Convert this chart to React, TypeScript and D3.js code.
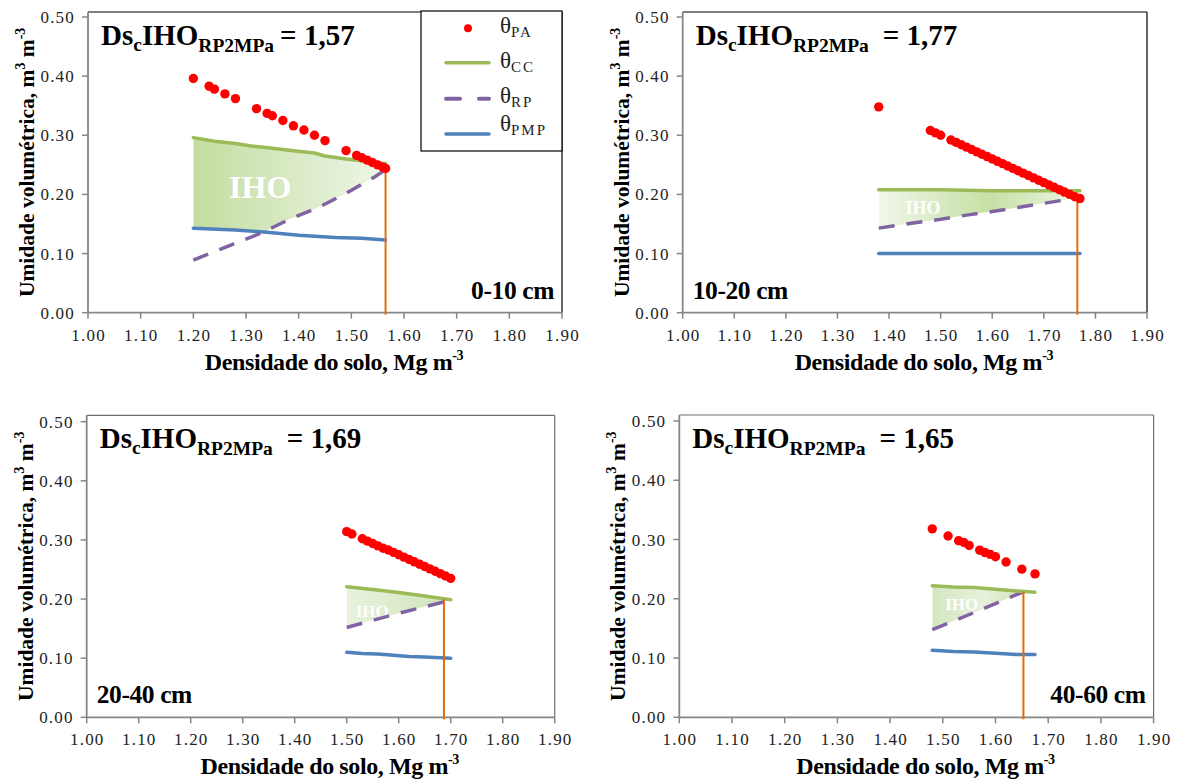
import React from "react";
import * as d3 from "d3";

type Pt = [number, number];

const densityTicks = [1.0, 1.1, 1.2, 1.3, 1.4, 1.5, 1.6, 1.7, 1.8, 1.9];
const moistureTicks = [0, 0.1, 0.2, 0.3, 0.4, 0.5];

const depthLabels = ["0-10 cm", "10-20 cm", "20-40 cm", "40-60 cm"];
const dscLabels = ["1,57", "1,77", "1,69", "1,65"];
const dscValues = [1.565, 1.765, 1.687, 1.653];
const dscTops = [0.245, 0.193, 0.1995, 0.212];

// 0-10 cm
const pa0010: Pt[] = [
  [1.2, 0.396], [1.23, 0.383], [1.24, 0.378], [1.26, 0.37], [1.28, 0.362],
  [1.32, 0.345], [1.34, 0.337], [1.35, 0.333], [1.37, 0.325], [1.39, 0.316],
  [1.41, 0.309], [1.43, 0.3], [1.45, 0.291], [1.49, 0.274], [1.51, 0.266],
  [1.52, 0.262], [1.53, 0.258], [1.54, 0.254], [1.55, 0.25], [1.56, 0.246], [1.565, 0.244],
];
const cc0010: Pt[] = [
  [1.2, 0.296], [1.24, 0.29], [1.28, 0.286], [1.31, 0.282], [1.35, 0.278], [1.39, 0.274],
  [1.43, 0.27], [1.45, 0.265], [1.49, 0.26], [1.53, 0.256], [1.565, 0.252],
];
const rp0010: Pt[] = [
  [1.2, 0.089], [1.27, 0.114], [1.33, 0.135], [1.38, 0.157], [1.44, 0.179],
  [1.49, 0.202], [1.545, 0.23], [1.565, 0.242],
];
const pmp0010: Pt[] = [
  [1.2, 0.143], [1.28, 0.14], [1.34, 0.136], [1.4, 0.131], [1.47, 0.127], [1.52, 0.126], [1.565, 0.123],
];

// 10-20 cm
const pa1020: Pt[] = [
  [1.38, 0.348], [1.48, 0.308], [1.49, 0.304], [1.5, 0.3],
  [1.52, 0.292], [1.53, 0.288], [1.54, 0.284], [1.55, 0.28], [1.56, 0.276], [1.57, 0.272],
  [1.58, 0.268], [1.59, 0.264], [1.6, 0.26], [1.61, 0.256], [1.62, 0.252], [1.63, 0.248],
  [1.64, 0.244], [1.65, 0.24], [1.66, 0.236], [1.67, 0.232], [1.68, 0.228], [1.69, 0.224],
  [1.7, 0.22], [1.71, 0.216], [1.72, 0.212], [1.73, 0.208], [1.74, 0.204], [1.75, 0.2],
  [1.76, 0.196], [1.77, 0.193],
];
const cc1020: Pt[] = [
  [1.38, 0.208], [1.45, 0.208], [1.5, 0.208], [1.55, 0.207], [1.6, 0.206], [1.65, 0.206], [1.7, 0.206], [1.77, 0.206],
];
const rp1020: Pt[] = [
  [1.38, 0.143], [1.45, 0.152], [1.5, 0.158], [1.55, 0.165], [1.6, 0.171], [1.65, 0.178], [1.7, 0.185], [1.765, 0.194],
];
const pmp1020: Pt[] = [[1.38, 0.1], [1.5, 0.1], [1.6, 0.1], [1.7, 0.1], [1.77, 0.1]];

// 20-40 cm
const pa2040: Pt[] = [
  [1.5, 0.314], [1.51, 0.31], [1.53, 0.302], [1.54, 0.298], [1.55, 0.294], [1.56, 0.29],
  [1.57, 0.286], [1.58, 0.283], [1.59, 0.279], [1.6, 0.275], [1.61, 0.271], [1.62, 0.267],
  [1.63, 0.263], [1.64, 0.259], [1.65, 0.255], [1.66, 0.251], [1.67, 0.247], [1.68, 0.243],
  [1.69, 0.239], [1.7, 0.235],
];
const cc2040: Pt[] = [[1.5, 0.221], [1.55, 0.216], [1.6, 0.211], [1.65, 0.205], [1.7, 0.199]];
const rp2040: Pt[] = [[1.5, 0.152], [1.55, 0.164], [1.6, 0.176], [1.65, 0.187], [1.7, 0.198]];
const pmp2040: Pt[] = [
  [1.5, 0.11], [1.53, 0.108], [1.56, 0.107], [1.59, 0.105], [1.62, 0.103], [1.65, 0.102], [1.7, 0.1],
];

// 40-60 cm
const pa4060: Pt[] = [
  [1.48, 0.318], [1.51, 0.306], [1.53, 0.298], [1.54, 0.295], [1.55, 0.29], [1.57, 0.282],
  [1.58, 0.278], [1.59, 0.275], [1.6, 0.271], [1.62, 0.262], [1.65, 0.25], [1.675, 0.242],
];
const cc4060: Pt[] = [[1.48, 0.222], [1.52, 0.22], [1.56, 0.219], [1.6, 0.216], [1.64, 0.213], [1.675, 0.211]];
const rp4060: Pt[] = [[1.48, 0.148], [1.52, 0.162], [1.56, 0.177], [1.6, 0.192], [1.64, 0.207], [1.675, 0.22]];
const pmp4060: Pt[] = [[1.48, 0.113], [1.52, 0.111], [1.56, 0.11], [1.6, 0.108], [1.64, 0.106], [1.675, 0.106]];

const series = [
  { pa: pa0010, cc: cc0010, rp: rp0010, pmp: pmp0010 },
  { pa: pa1020, cc: cc1020, rp: rp1020, pmp: pmp1020 },
  { pa: pa2040, cc: cc2040, rp: rp2040, pmp: pmp2040 },
  { pa: pa4060, cc: cc4060, rp: rp4060, pmp: pmp4060 },
];

// where IHO text sits, in data units
const ihoLabelPos: Pt[] = [[1.327, 0.212], [1.466, 0.177], [1.549, 0.179], [1.536, 0.19]];

// pixel layout of each panel
const boxes = [
  { left: 88, right: 562, top: 12, y0: 312.7, y50: 17, frame: "#000", ihoSize: 32, depthRight: true,
    eqGap: 6, grad: [["0", "#c3dd9f"], ["1", "#eef6e8"]] },
  { left: 682.7, right: 1147, top: 12, y0: 312.7, y50: 17, frame: "#000", ihoSize: 18, depthRight: false,
    eqGap: 14, grad: [["0", "#f0f7ea"], ["0.55", "#c6e0a4"], ["1", "#eef6e6"]] },
  { left: 86.7, right: 554.7, top: 415.3, y0: 717.3, y50: 421.7, frame: "#6f6f6f", ihoSize: 17, depthRight: false,
    eqGap: 14, grad: [["0", "#e8f2de"], ["1", "#cfe4b7"]] },
  { left: 679.3, right: 1153.6, top: 415, y0: 717.3, y50: 421, frame: "#6f6f6f", ihoSize: 17, depthRight: true,
    eqGap: 14, grad: [["0", "#d4e7c0"], ["0.5", "#e6f1dc"], ["1", "#c8e0aa"]] },
];

const FONT = "'Liberation Serif', 'Times New Roman', serif";
const RED = "#ff0000";
const GREEN = "#9bbb59";
const PURPLE = "#8064a2";
const BLUE = "#4f81bd";
const ORANGE = "#e36c09";
const AXIS = "#868686";

function Panel({ i }: { i: number }) {
  const b = boxes[i];
  const s = series[i];
  const x = d3.scaleLinear().domain([1, 1.9]).range([b.left, b.right]);
  const y = d3.scaleLinear().domain([0, 0.5]).range([b.y0, b.y50]);
  const line = d3.line<Pt>().x(d => x(d[0])).y(d => y(d[1]));
  const above = d3.area<Pt>().x(d => x(d[0])).y0(d => y(d[1])).y1(b.top);
  const band = [...s.cc, ...s.rp.slice().reverse()];
  const dsc = dscValues[i];
  const cx = (b.left + b.right) / 2;
  const cy = (b.top + b.y0) / 2;
  const lab = ihoLabelPos[i];

  return (
    <g>
      <defs>
        <linearGradient id={"ihoGrad" + i} x1="0" x2="1" y1="0" y2="0">
          {b.grad.map(([o, c]) => <stop key={o} offset={o} stopColor={c} />)}
        </linearGradient>
        <clipPath id={"dscClip" + i}>
          <rect x={b.left} y={b.top} width={x(dsc) - b.left} height={b.y0 - b.top} />
        </clipPath>
        <clipPath id={"pmpClip" + i}>
          <path d={above(s.pmp) || ""} />
        </clipPath>
      </defs>

      {/* IHO band */}
      <g clipPath={`url(#dscClip${i})`}>
        <path d={line(band) + "Z"} fill={`url(#ihoGrad${i})`} clipPath={`url(#pmpClip${i})`} />
      </g>
      <text x={x(lab[0])} y={y(lab[1]) + b.ihoSize * 0.34} textAnchor="middle" fill="#fff"
        fontWeight="bold" fontSize={b.ihoSize}>IHO</text>

      {/* frame and axes */}
      <line x1={b.left} x2={b.right} y1={b.top} y2={b.top} stroke={b.frame} strokeWidth={1.2} />
      <line x1={b.right} x2={b.right} y1={b.top} y2={b.y0} stroke={b.frame} strokeWidth={1.2} />
      <line x1={b.left} x2={b.left} y1={b.top} y2={b.y0} stroke={AXIS} strokeWidth={1.8} />
      <line x1={b.left} x2={b.right} y1={b.y0} y2={b.y0} stroke={AXIS} strokeWidth={1.8} />
      {moistureTicks.map(t => (
        <g key={"y" + t}>
          <line x1={b.left - 6} x2={b.left} y1={y(t)} y2={y(t)} stroke={AXIS} strokeWidth={1.5} />
          <text x={b.left - 13} y={y(t) + 6} textAnchor="end" fontSize={17} letterSpacing={1.2} fill="#222">
            {t.toFixed(2)}
          </text>
        </g>
      ))}
      {densityTicks.map(t => (
        <g key={"x" + t}>
          <line x1={x(t)} x2={x(t)} y1={b.y0} y2={b.y0 + 6} stroke={AXIS} strokeWidth={1.5} />
          <text x={x(t) + 0.6} y={b.y0 + 28} textAnchor="middle" fontSize={17} letterSpacing={1.2} fill="#222">
            {t.toFixed(2)}
          </text>
        </g>
      ))}

      {/* axis titles */}
      <text x={cx + 9} y={b.y0 + 57} textAnchor="middle" fontWeight="bold" fontSize={24} letterSpacing={-0.4}>
        Densidade do solo, Mg m<tspan fontSize={14} dy={-10}>-3</tspan>
      </text>
      <text transform={`translate(${b.left - 54},${cy}) rotate(-90)`} textAnchor="middle" fontWeight="bold" fontSize={21.5}>
        Umidade volumétrica, m<tspan fontSize={14} dy={-9}>3</tspan>
        <tspan dy={9}> m</tspan><tspan fontSize={14} dy={-9}>-3</tspan>
      </text>

      {/* series */}
      <path d={line(s.pmp) || ""} fill="none" stroke={BLUE} strokeWidth={3.5} strokeLinecap="round" />
      <path d={line(s.rp) || ""} fill="none" stroke={PURPLE} strokeWidth={3.5} strokeDasharray="16,12" />
      <path d={line(s.cc) || ""} fill="none" stroke={GREEN} strokeWidth={3.5} strokeLinecap="round" />
      <line x1={x(dsc)} x2={x(dsc)} y1={y(0) + 2} y2={y(dscTops[i])} stroke={ORANGE} strokeWidth={2} />
      {s.pa.map((d, k) => (
        <circle key={k} cx={x(d[0])} cy={y(d[1])} r={4.7} fill={RED} />
      ))}

      {/* annotations */}
      <text x={b.left + 13} y={b.top + 33} fontWeight="bold" fontSize={29}>
        Ds<tspan fontSize={19.5} dy={6}>c</tspan><tspan dy={-6}>IHO</tspan>
        <tspan fontSize={19.5} dy={7}>RP2MPa</tspan>
        <tspan dy={-7} dx={b.eqGap}>= {dscLabels[i]}</tspan>
      </text>
      <text x={b.depthRight ? b.right - 8 : b.left + 10} y={b.y0 - 14}
        textAnchor={b.depthRight ? "end" : "start"} fontWeight="bold" fontSize={25.5} letterSpacing={-0.4}>
        {depthLabels[i]}
      </text>
    </g>
  );
}

const legendItems = [
  { sub: "PA", kind: "dot", color: RED },
  { sub: "CC", kind: "line", color: GREEN },
  { sub: "RP", kind: "dash", color: PURPLE },
  { sub: "PMP", kind: "line", color: BLUE },
];

function Legend() {
  const left = 421;
  const top = 11;
  const rowY = [28.3, 62.7, 98.7, 134];
  const textY = [33, 68, 103, 131];
  return (
    <g>
      <rect x={left} y={top} width={141} height={140} fill="#fff" stroke="#000" strokeWidth={1.2} />
      {legendItems.map((it, k) => (
        <g key={it.sub}>
          {it.kind === "dot" ? (
            <circle cx={left + 47} cy={rowY[k]} r={4} fill={it.color} />
          ) : (
            <line x1={left + 25} x2={left + 68} y1={rowY[k]} y2={rowY[k]} stroke={it.color}
              strokeWidth={it.kind === "dash" ? 4 : 3.5} strokeLinecap="round"
              strokeDasharray={it.kind === "dash" ? "14,19" : undefined} />
          )}
          <text x={left + 79} y={textY[k]} fontSize={23} fill="#222">
            θ<tspan fontSize={15} dy={4} letterSpacing={2}>{it.sub}</tspan>
          </text>
        </g>
      ))}
    </g>
  );
}

export default function App() {
  return (
    <svg width={1180} height={782} fontFamily={FONT}
      style={{ position: "absolute", left: 0, top: 0, background: "#fff" }}>
      {boxes.map((_, i) => <Panel key={i} i={i} />)}
      <Legend />
    </svg>
  );
}
